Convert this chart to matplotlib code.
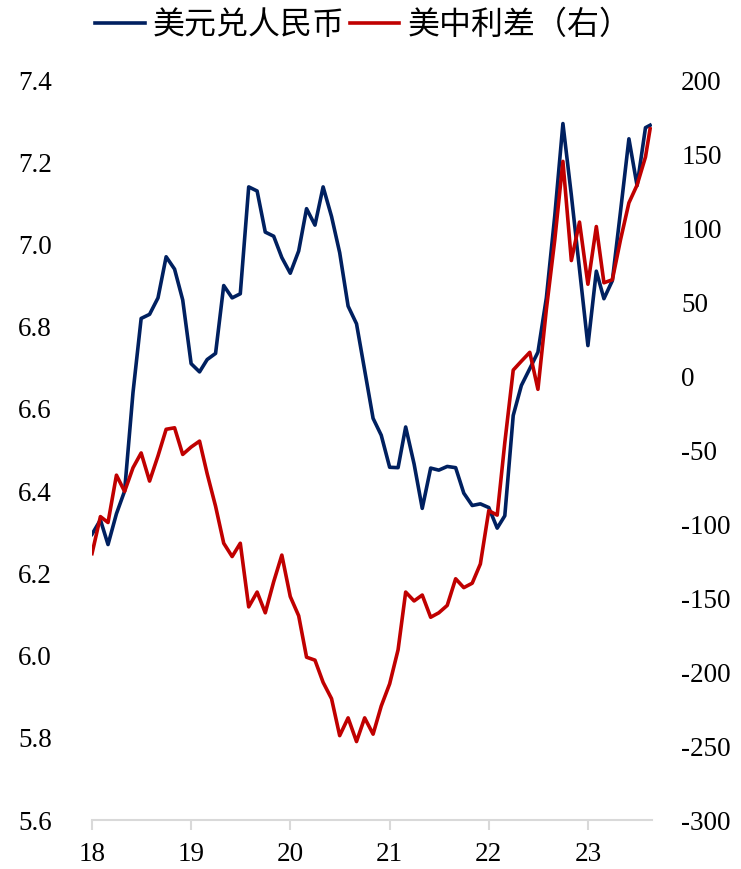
import numpy as np
import pandas as pd
import matplotlib
matplotlib.use("Agg")
import matplotlib.pyplot as plt
import matplotlib.dates as mdates

# 月度数据 2018-01 ~ 2023-08, 最后一个点为 9 月最新值
dates = list(pd.date_range("2018-01-01", "2023-08-01", freq="MS")) + [pd.Timestamp("2023-08-18")]

usdcny = [
    6.295, 6.33, 6.27, 6.345, 6.40, 6.64, 6.82, 6.83, 6.87, 6.97, 6.94, 6.865,
    6.71, 6.69, 6.72, 6.735, 6.90, 6.87, 6.88, 7.14, 7.13, 7.03, 7.02, 6.968,
    6.93, 6.984, 7.087, 7.047, 7.14, 7.068, 6.98, 6.85, 6.807, 6.694, 6.577, 6.536,
    6.458, 6.457, 6.556, 6.466, 6.358, 6.456, 6.451, 6.46, 6.457, 6.395, 6.365, 6.369,
    6.36, 6.31, 6.34, 6.584, 6.657, 6.698, 6.738, 6.87, 7.07, 7.294, 7.12, 6.94,
    6.754, 6.935, 6.868, 6.912, 7.08, 7.257, 7.143, 7.284, 7.29,
]

spread = [
    -120, -95, -99, -67, -78, -62, -52, -71, -54, -36, -35, -53,
    -48, -44, -66, -88, -113, -122, -113, -156, -146, -160, -139, -121,
    -149, -162, -190, -192, -207, -218, -243, -231, -247, -231, -242, -223,
    -208, -185, -146, -152, -148, -163, -160, -155, -137, -143, -140, -127,
    -91, -94, -45, 4, 10, 16, -9, 45, 92, 145, 78, 104,
    62, 101, 63, 65, 92, 117, 129, 148, 167,
]

year_ticks = pd.date_range("2018-01-01", "2023-01-01", freq="YS")
year_labels = ["18", "19", "20", "21", "22", "23"]

left_ticks = [5.6, 5.8, 6.0, 6.2, 6.4, 6.6, 6.8, 7.0, 7.2, 7.4]
right_ticks = [-300, -250, -200, -150, -100, -50, 0, 50, 100, 150, 200]

plt.rcParams["font.family"] = ["Liberation Serif", "DejaVu Serif"]

fig = plt.figure(figsize=(7.41, 8.69), dpi=100)
ax = fig.add_axes([92 / 741, 49 / 869, 560 / 741, 740 / 869])
ax2 = ax.twinx()

l1, = ax.plot(dates, usdcny, color="#002060", lw=2.6, label="美元兑人民币")
l2, = ax2.plot(dates, spread, color="#C00000", lw=2.6, label="美中利差（右）")

ax.set_xlim(pd.Timestamp("2018-01-01"), pd.Timestamp("2023-08-25"))
ax.set_ylim(5.6, 7.4)
ax2.set_ylim(-300, 200)

ax.set_yticks(left_ticks)
ax.set_yticklabels([f"{v:.1f}" for v in left_ticks])
ax2.set_yticks(right_ticks)
ax2.set_yticklabels([str(v) for v in right_ticks])
ax.set_xticks(year_ticks)
ax.set_xticklabels(year_labels)

ax.tick_params(axis="y", length=0, pad=29, labelsize=19.5)
ax2.tick_params(axis="y", length=0, pad=21, labelsize=19.5)
ax.tick_params(axis="x", length=7, width=1.5, color="#d9d9d9", direction="out",
               pad=9, labelsize=19.5)

for a in (ax, ax2):
    for s in ("top", "left", "right"):
        a.spines[s].set_visible(False)
    a.spines["bottom"].set_color("#d9d9d9")
    a.spines["bottom"].set_linewidth(1.5)
ax2.spines["bottom"].set_visible(False)

leg = fig.legend(handles=[l1, l2], loc="upper left", bbox_to_anchor=(95 / 741, 0.99),
                 ncol=2, frameon=False, handlelength=1.56, columnspacing=0.15,
                 handletextpad=0.25, borderpad=0, borderaxespad=0,
                 prop={"family": ["Noto Sans CJK SC", "DejaVu Sans"], "size": 23})

fig.savefig("out.png", dpi=100)
